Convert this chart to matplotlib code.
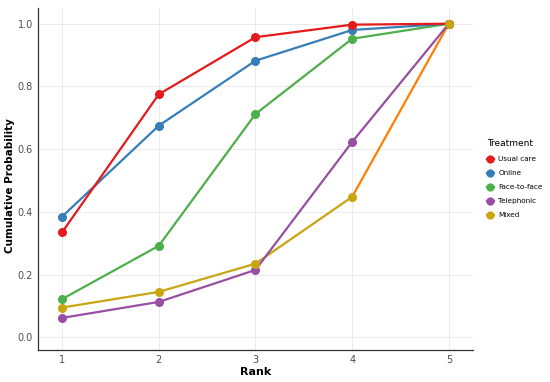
import matplotlib.pyplot as plt

rank = [1, 2, 3, 4, 5]
usual_care = [0.335, 0.775, 0.957, 0.997, 1.0]
online = [0.385, 0.675, 0.882, 0.980, 1.0]
face_to_face = [0.122, 0.292, 0.712, 0.952, 1.0]
telephonic = [0.062, 0.113, 0.215, 0.623, 1.0]
mixed = [0.095, 0.145, 0.235, 0.448, 1.0]

series = [
    ("Usual care", usual_care, "#E41A1C"),
    ("Online", online, "#377EB8"),
    ("Face-to-face", face_to_face, "#4DAF4A"),
    ("Telephonic", telephonic, "#984EA3"),
    ("Mixed", mixed, "#C9A512"),
]

fig = plt.figure(figsize=(5.5, 3.82), dpi=100)
ax = fig.add_axes([0.069, 0.084, 0.791, 0.895])

# draw from the bottom up so the top curves sit on top
for name, vals, col in reversed(series):
    if name == "Mixed":
        # last segment of the mixed curve shows in orange
        ax.plot(rank[3:], vals[3:], color="#FF7F00", lw=1.6, zorder=2)
        ax.plot(rank[:4], vals[:4], color=col, lw=1.6, zorder=2)
        ax.plot(rank, vals, color=col, lw=0, marker="o", ms=5.5, zorder=3, label=name)
    else:
        ax.plot(rank, vals, color=col, lw=1.6, marker="o", ms=5.5, zorder=2, label=name)

ax.set_xlim(0.75, 5.25)
ax.set_ylim(-0.04, 1.05)
ax.set_xticks(rank)
ax.set_yticks([0.0, 0.2, 0.4, 0.6, 0.8, 1.0])
ax.set_yticklabels(["0.0", "0.2", "0.4", "0.6", "0.8", "1.0"])
ax.grid(True, color="#EBEBEB", lw=0.7)
ax.set_axisbelow(True)
for s in ["top", "right"]:
    ax.spines[s].set_visible(False)
for s in ["left", "bottom"]:
    ax.spines[s].set_color("#333333")
    ax.spines[s].set_linewidth(0.9)
ax.tick_params(colors="#333333", labelsize=7, length=0, pad=4, labelcolor="#4D4D4D")
ax.tick_params(axis="y", pad=3.5)
ax.set_xlabel("Rank", fontsize=8, fontweight="bold", labelpad=1)
ax.set_ylabel("Cumulative Probability", fontsize=7.5, fontweight="bold")
ax.yaxis.set_label_coords(-0.052, 0.48)

handles, labels = ax.get_legend_handles_labels()
order = [labels.index(s[0]) for s in series]
leg = ax.legend([handles[i] for i in order], [labels[i] for i in order],
                title="Treatment", loc="center left", bbox_to_anchor=(1.02, 0.5),
                frameon=False, fontsize=5.2, title_fontsize=6.5, handlelength=1.0,
                handletextpad=0.6, labelspacing=1.1, alignment="left",
                borderaxespad=0.3, markerscale=0.9)
for line in leg.get_lines():
    line.set_linestyle("-")
    line.set_linewidth(1.6)

fig.savefig("out.png", dpi=100)
